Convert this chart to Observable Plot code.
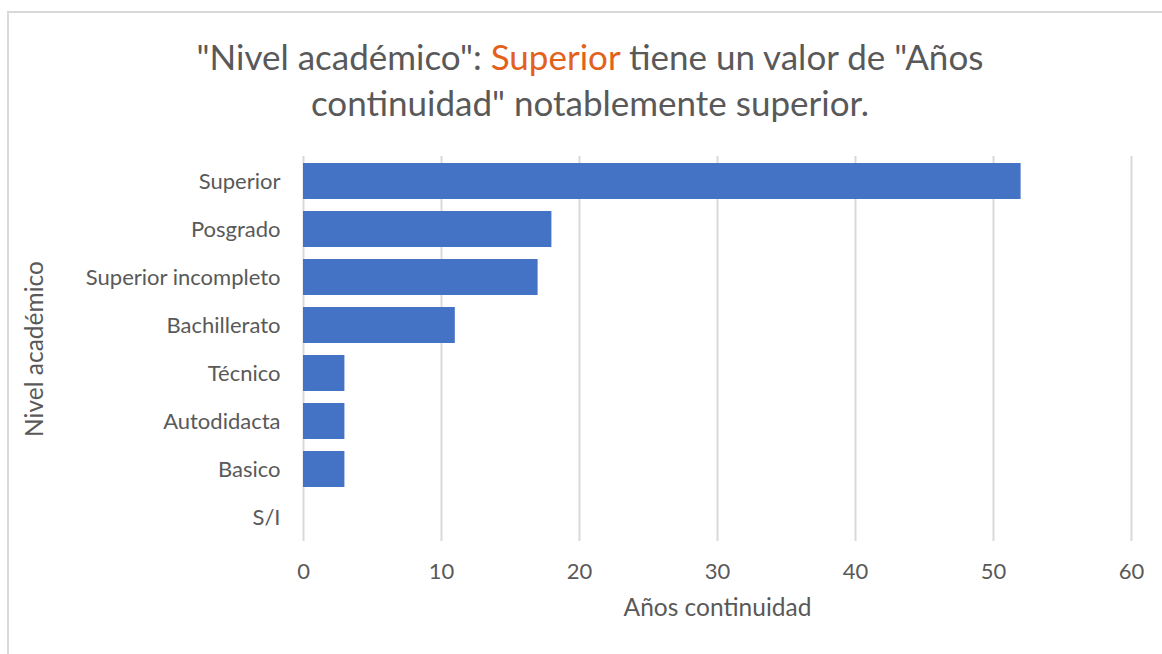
<!DOCTYPE html>
<html>
<head>
<meta charset="utf-8">
<script src="https://cdn.jsdelivr.net/npm/d3@7"></script>
<script src="https://cdn.jsdelivr.net/npm/@observablehq/plot@0.6"></script>
<style>
  html, body { margin: 0; padding: 0; background: #fff; }
  #page { position: relative; width: 1162px; height: 654px; overflow: hidden; background: #fff; }
  #frame { position: absolute; left: 7px; top: 11px; width: 1170px; height: 700px; border: 2px solid #d9d9d9; box-sizing: border-box; }
  #title { position: absolute; left: 8px; width: 1164px; top: 33px; text-align: center;
           font-family: Lato, "Open Sans", sans-serif; font-size: 35px; line-height: 46px; color: #595959; }
  #title .hl { color: #E2611B; }
  #chart { position: absolute; left: 0; top: 140px; }
</style>
</head>
<body>
<div id="page">
  <div id="frame"></div>
  <div id="title">"Nivel académico": <span class="hl">Superior</span> tiene un valor de "Años<br>continuidad" notablemente superior.</div>
  <div id="chart"></div>
</div>
<script>
const categories = ["Superior", "Posgrado", "Superior incompleto", "Bachillerato", "Técnico", "Autodidacta", "Basico", "S/I"];
const values = [52, 18, 17, 11, 3, 3, 3, 0];
const xTicks = [0, 10, 20, 30, 40, 50, 60];
const xLabel = "Años continuidad";
const yLabel = "Nivel académico";

const data = categories.map((c, i) => ({ category: c, value: values[i] }));

const fontFamily = "Lato, 'Open Sans', sans-serif";
const textColor = "#595959";

const chart = Plot.plot({
  width: 1162,
  height: 514,
  marginTop: 16,
  marginBottom: 113,
  marginLeft: 303,
  marginRight: 31,
  style: { fontFamily, fontSize: "22px", color: textColor, background: "transparent", overflow: "visible" },
  x: { domain: [0, 60], ticks: xTicks, label: null },
  y: { domain: categories, paddingInner: 0.25, paddingOuter: 0.125, label: null },
  marks: [
    Plot.gridX(xTicks, { stroke: "#d9d9d9", strokeOpacity: 1, strokeWidth: 2 }),
    Plot.barX(data, { x: "value", y: "category", fill: "#4472C4" }),
    Plot.axisX(xTicks, { tickSize: 0, tickPadding: 22, fontSize: 22, fill: textColor, label: null }),
    Plot.axisY(categories, { tickSize: 0, tickPadding: 23, fontSize: 22, fill: textColor, label: null }),
    Plot.text([xLabel], { frameAnchor: "bottom", dy: 74, fontSize: 24.5, fill: textColor, textAnchor: "middle" }),
    Plot.text([yLabel], { frameAnchor: "left", dx: -268, rotate: -90, fontSize: 24.5, fill: textColor, textAnchor: "middle" })
  ]
});
document.getElementById("chart").appendChild(chart);
</script>
</body>
</html>
